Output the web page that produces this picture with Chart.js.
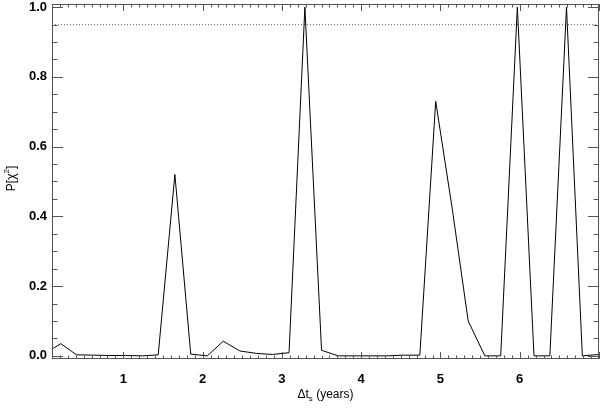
<!DOCTYPE html>
<html>

<head>
    <title>P[chi2] vs lag</title>
    <script src="https://cdn.jsdelivr.net/npm/chart.js@4.4.1/dist/chart.umd.min.js"></script>
</head>

<style>
    body {
        margin: 0;
        background: white;
    }

    #wrap {
        width: 600px;
        height: 408px;
    }
</style>

<body>

    <div id="wrap"><canvas id="pChart"></canvas></div>

    <script>

        // Lag values (years)
        const lagYears = [0.00, 0.21, 0.41, 0.62, 0.82, 1.03, 1.24, 1.44, 1.65, 1.85,
            2.06, 2.26, 2.47, 2.68, 2.88, 3.09, 3.29, 3.50, 3.71, 3.91,
            4.12, 4.32, 4.53, 4.74, 4.94, 5.15, 5.35, 5.56, 5.76, 5.97,
            6.18, 6.38, 6.59, 6.79, 7.00];

        // Probability P[chi^2] at each lag
        const probValues = [0.005, 0.035, 0.003, 0.002, 0.001, 0.001, 0.000, 0.003, 0.52, 0.005,
            0.000, 0.042, 0.014, 0.007, 0.004, 0.009, 1.000, 0.016, 0.000, 0.000,
            0.000, 0.000, 0.002, 0.002, 0.73, 0.42, 0.10, 0.000, 0.000, 1.000,
            0.000, 0.000, 1.000, 0.000, 0.004];

        // Dotted threshold line
        const thresholdLevel = [0.95];

        // Tick labels
        const xTickLabels = [1, 2, 3, 4, 5, 6];
        const yTickLabels = [0.0, 0.2, 0.4, 0.6, 0.8, 1.0];

        const xRange = [0.1, 7.0];
        const yRange = [-0.009, 1.009];

        const tickFont = { family: "'Liberation Sans', Arial, Helvetica, sans-serif", size: 13, weight: "bold" };

        // IDL style box with inward ticks on all four sides, plus axis titles
        const boxPlugin = {
            id: "idlBox",
            afterDraw(chart) {
                const c = chart.ctx;
                const a = chart.chartArea;
                const xs = chart.scales.x;
                const ys = chart.scales.y;

                c.save();
                c.strokeStyle = "#555";
                c.lineWidth = 1;
                c.strokeRect(a.left + 0.5, a.top + 0.5, a.right - a.left - 1, a.bottom - a.top - 1);

                c.beginPath();
                // x ticks, every 0.1, major at integers
                for (let i = 1; i <= 70; i++) {
                    const v = i / 10;
                    if (v < xRange[0] || v > xRange[1]) continue;
                    const px = Math.round(xs.getPixelForValue(v)) + 0.5;
                    const len = (i % 10 === 0) ? 7 : 3.5;
                    c.moveTo(px, a.bottom);
                    c.lineTo(px, a.bottom - len);
                    c.moveTo(px, a.top);
                    c.lineTo(px, a.top + len);
                }
                // y ticks, every 0.05, major every 0.2
                for (let i = 0; i <= 20; i++) {
                    const v = i * 0.05;
                    const py = Math.round(ys.getPixelForValue(v)) + 0.5;
                    const len = (i % 4 === 0) ? 11 : 5.5;
                    c.moveTo(a.left, py);
                    c.lineTo(a.left + len, py);
                    c.moveTo(a.right, py);
                    c.lineTo(a.right - len, py);
                }
                c.stroke();

                // x title: delta t_s (years)
                c.fillStyle = "#000";
                c.textBaseline = "alphabetic";
                const f = "'Liberation Sans', Arial, Helvetica, sans-serif";
                const p1 = "\u0394t";
                const p3 = " (years)";
                c.font = "12px " + f;
                const w1 = c.measureText(p1).width;
                const w3 = c.measureText(p3).width;
                c.font = "8px " + f;
                const w2 = c.measureText("s").width;
                const total = w1 + w2 + w3;
                let tx = (a.left + a.right) / 2 - total / 2;
                const ty = 398;
                c.font = "12px " + f;
                c.fillText(p1, tx, ty);
                c.font = "8px " + f;
                c.fillText("s", tx + w1, ty + 3);
                c.font = "12px " + f;
                c.fillText(p3, tx + w1 + w2, ty);

                // y title: P[chi^2]
                c.translate(15, (a.top + a.bottom) / 2 - 3);
                c.rotate(-Math.PI / 2);
                c.font = "12px " + f;
                const q1 = "P[\u03c7";
                const q3 = "]";
                const v1 = c.measureText(q1).width;
                const v3 = c.measureText(q3).width;
                c.font = "8px " + f;
                const v2 = c.measureText("2").width;
                let sx = -(v1 + v2 + v3) / 2;
                c.font = "12px " + f;
                c.fillText(q1, sx, 0);
                c.font = "8px " + f;
                c.fillText("2", sx + v1, -6);
                c.font = "12px " + f;
                c.fillText(q3, sx + v1 + v2, 0);
                c.restore();
            }
        };

        const ctx = document.getElementById("pChart").getContext("2d");

        const chart = new Chart(ctx, {
            type: "line",
            data: {
                datasets: [
                    {
                        data: lagYears.map((x, i) => ({ x: x, y: probValues[i] })),
                        borderColor: "#000",
                        borderWidth: 1,
                        pointRadius: 0,
                        tension: 0,
                        fill: false
                    },
                    {
                        data: [{ x: xRange[0], y: thresholdLevel[0] }, { x: xRange[1], y: thresholdLevel[0] }],
                        borderColor: "#666",
                        borderWidth: 1,
                        borderDash: [1, 2],
                        pointRadius: 0,
                        fill: false
                    }
                ]
            },
            options: {
                responsive: true,
                maintainAspectRatio: false,
                animation: false,
                layout: { padding: { left: 0, top: 4, right: 1, bottom: 0 } },
                plugins: {
                    legend: { display: false },
                    tooltip: { enabled: false }
                },
                scales: {
                    x: {
                        type: "linear",
                        min: xRange[0],
                        max: xRange[1],
                        grid: { display: false, drawTicks: false },
                        border: { display: false },
                        ticks: { font: tickFont, color: "#000", padding: 13, maxRotation: 0 },
                        afterBuildTicks: (s) => { s.ticks = xTickLabels.map(v => ({ value: v })); },
                        afterFit: (s) => {
                            s.height = 49;
                            s.paddingLeft = 0;
                            s.paddingRight = 0;
                        }
                    },
                    y: {
                        type: "linear",
                        min: yRange[0],
                        max: yRange[1],
                        grid: { display: false, drawTicks: false },
                        border: { display: false },
                        ticks: { font: tickFont, color: "#000", padding: 5, callback: (v) => v.toFixed(1) },
                        afterBuildTicks: (s) => { s.ticks = yTickLabels.map(v => ({ value: v })); },
                        afterFit: (s) => {
                            s.width = 52;
                            s.paddingTop = 0;
                            s.paddingBottom = 0;
                        }
                    }
                }
            },
            plugins: [boxPlugin]
        });

    </script>
</body>

</html>
